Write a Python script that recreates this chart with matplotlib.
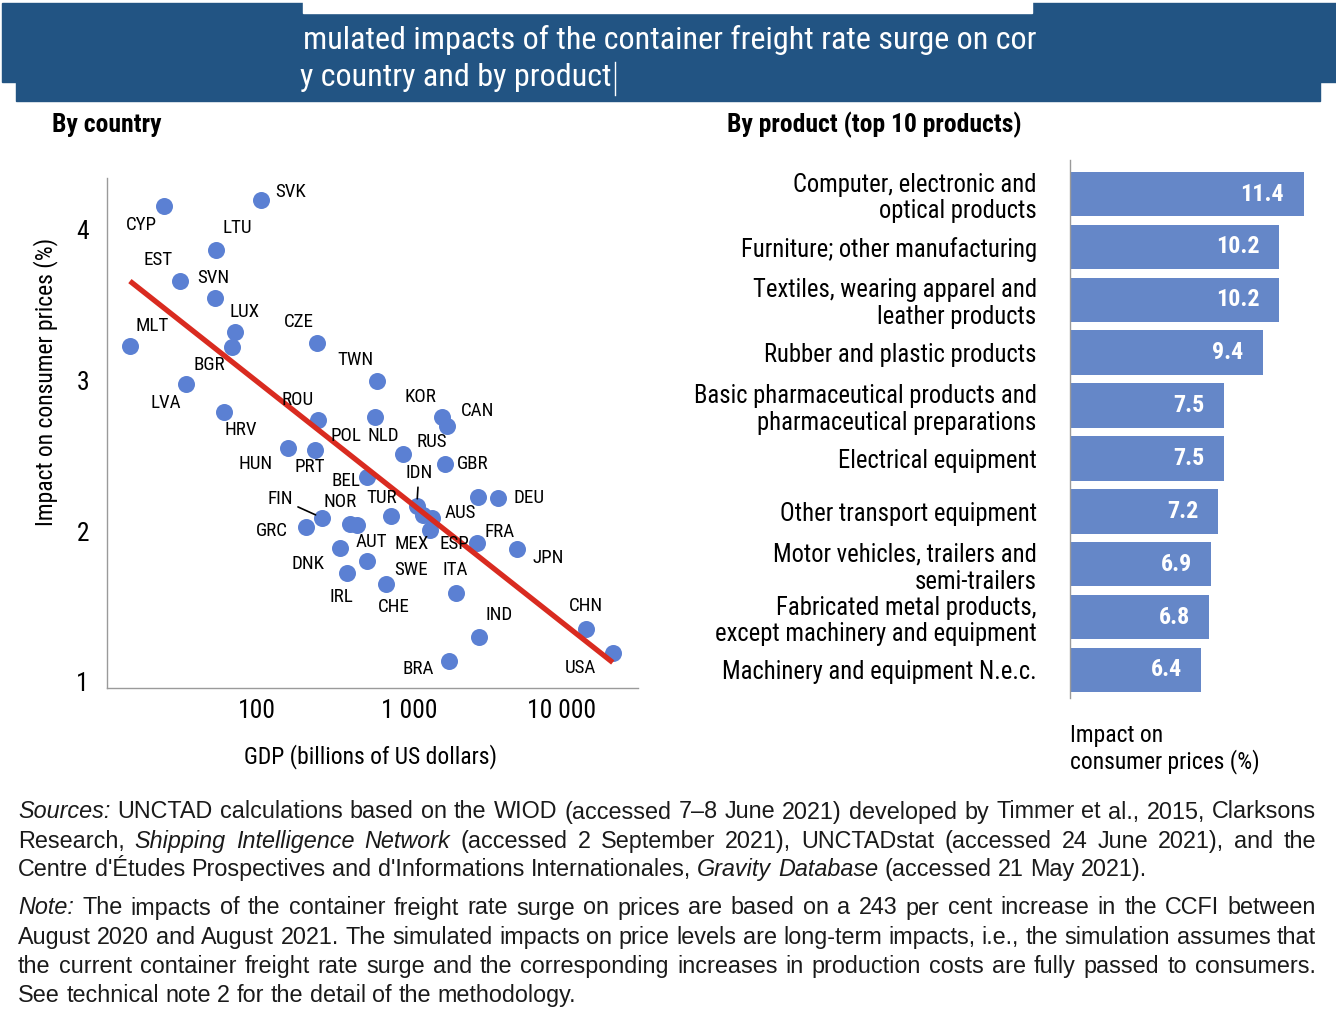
import matplotlib.pyplot as plt
import matplotlib.patches as patches
import matplotlib.font_manager as fm
from matplotlib.font_manager import FontProperties
import numpy as np

# ---- data: by country (GDP in billions USD, impact in %) ----
countries = ["SVK", "CYP", "LTU", "EST", "SVN", "LUX", "BGR", "MLT", "CZE", "TWN",
             "LVA", "HRV", "ROU", "POL", "KOR", "CAN", "NLD", "HUN", "PRT", "GBR",
             "BEL", "RUS", "DEU", "IDN", "MEX", "AUS", "ESP", "FRA", "JPN", "FIN",
             "GRC", "NOR", "AUT", "TUR", "DNK", "SWE", "IRL", "CHE", "ITA", "IND",
             "BRA", "CHN", "USA"]
gdp = [106, 24.5, 53.8, 31.3, 53.1, 71.8, 68.6, 14.7, 247, 612,
       34.2, 60.8, 251, 594, 1633, 1762, 906, 160, 240, 1710,
       526, 2812, 3802, 1120, 1227, 1407, 1362, 2773, 5070, 267,
       209, 407, 453, 757, 350, 526, 389, 701, 2017, 2857,
       1815, 14350, 21580]
impact = [4.20, 4.16, 3.87, 3.66, 3.55, 3.32, 3.22, 3.23, 3.25, 3.00,
          2.98, 2.79, 2.74, 2.76, 2.76, 2.70, 2.51, 2.55, 2.54, 2.45,
          2.36, 2.23, 2.22, 2.17, 2.11, 2.09, 2.01, 1.92, 1.88, 2.09,
          2.03, 2.05, 2.04, 2.10, 1.89, 1.80, 1.72, 1.65, 1.59, 1.30,
          1.14, 1.35, 1.19]

# ---- data: by product ----
products = ["Computer, electronic and\noptical products",
            "Furniture; other manufacturing",
            "Textiles, wearing apparel and\nleather products",
            "Rubber and plastic products",
            "Basic pharmaceutical products and\npharmaceutical preparations",
            "Electrical equipment",
            "Other transport equipment",
            "Motor vehicles, trailers and\nsemi-trailers",
            "Fabricated metal products,\nexcept machinery and equipment",
            "Machinery and equipment N.e.c."]
product_impact = [11.4, 10.2, 10.2, 9.4, 7.5, 7.5, 7.2, 6.9, 6.8, 6.4]

# label offsets in pixels (dx right, dy down) from each point
label_offsets = {
    "SVK": (30, -8), "CYP": (-22, 19), "LTU": (21, -22), "EST": (-22, -21),
    "SVN": (-2, -20), "LUX": (10, -20), "BGR": (-23, 18), "MLT": (22, -20),
    "CZE": (-18, -21), "TWN": (-21, -21), "LVA": (-20, 19), "HRV": (17, 18),
    "ROU": (-20, -20), "POL": (-29, 19), "KOR": (-21, -20), "CAN": (31, -15),
    "NLD": (-19, -18), "HUN": (-32, 16), "PRT": (-5, 17), "GBR": (28, 0),
    "BEL": (-21, 4), "RUS": (-46, -55), "DEU": (31, 0), "IDN": (2, -33),
    "MEX": (-11, 29), "AUS": (28, -5), "ESP": (25, 14), "FRA": (23, -11),
    "JPN": (31, 9), "FIN": (-42, -19), "GRC": (-34, 4), "NOR": (-10, -22),
    "AUT": (14, 17), "TUR": (-9, -18), "DNK": (-32, 16), "SWE": (44, 9),
    "IRL": (-5, 24), "CHE": (8, 23), "ITA": (-1, -23), "IND": (20, -22),
    "BRA": (-31, 8), "CHN": (0, -23), "USA": (-32, 15),
}
pointer_labels = ["FIN", "IDN"]

# ---- fonts: Roboto Condensed if present ----
cond = {}
for f in fm.fontManager.ttflist:
    if f.name == "Roboto Condensed" and f.style == "normal":
        if f.weight in (400, "normal", "regular"):
            cond["reg"] = f.fname
        elif f.weight in (700, "bold"):
            cond["bold"] = f.fname

def font(size, bold=False):
    path = cond.get("bold" if bold else "reg", cond.get("reg"))
    if path:
        return FontProperties(fname=path, size=size)
    return FontProperties(family=["Liberation Sans", "DejaVu Sans"],
                          weight="bold" if bold else "normal", size=size)

plt.rcParams['font.family'] = ["Liberation Sans", "DejaVu Sans"]

W, H = 1336, 1022
fig = plt.figure(figsize=(W / 100, H / 100), dpi=100)
fig.patch.set_facecolor("white")
renderer = fig.canvas.get_renderer()

def fit_size(sample, target_px, bold=False):
    # size that makes the sample text as wide as in the reference
    t = fig.text(0, 0, sample, fontproperties=font(10, bold))
    w = t.get_window_extent(renderer).width
    t.remove()
    return 10 * target_px / w

def fx(px):
    return px / W

def fy(py):
    return 1 - py / H

s_title = fit_size("mulated impacts of the container freight rate surge on cor", 727)
s_head = fit_size("By product (top 10 products)", 295, True)
s_cat = fit_size("Furniture; other manufacturing", 294)
s_val = fit_size("11.4", 44, True)
s_cty = fit_size("SVK", 31)
s_tick = fit_size("10 000", 68)
s_lab = fit_size("GDP (billions of US dollars)", 253)

# ---- header band ----
band = "#225483"
fig.patches.append(patches.Rectangle((fx(2), fy(82)), fx(1334), 79 / H, color=band,
                                     transform=fig.transFigure, zorder=0))
fig.patches.append(patches.Rectangle((fx(16), fy(101)), fx(1304), 20 / H, color=band,
                                     transform=fig.transFigure, zorder=0))
fig.patches.append(patches.Rectangle((fx(303), fy(13)), fx(729), 14 / H, color="white",
                                     transform=fig.transFigure, zorder=1))
fig.text(fx(303), fy(40), "mulated impacts of the container freight rate surge on cor",
         color="white", fontproperties=font(s_title), ha="left", va="center")
t2 = fig.text(fx(300), fy(77), "y country and by product", color="white",
              fontproperties=font(s_title), ha="left", va="center")
cur_x = t2.get_window_extent(renderer).x1 + 3
fig.lines.append(plt.Line2D([cur_x / W, cur_x / W], [fy(62), fy(95)], color="white",
                            lw=1, transform=fig.transFigure))

fig.text(fx(52), fy(125), "By country", fontproperties=font(s_head, True), va="center")
fig.text(fx(727), fy(125), "By product (top 10 products)", fontproperties=font(s_head, True),
         va="center")

# ---- scatter: by country ----
ax = fig.add_axes([fx(107), fy(688), 531 / W, 510 / H])
ax.set_xscale("log")
ax.scatter(gdp, impact, s=150, color="#5b80d3", zorder=3, linewidths=0)

lg = np.log10(gdp)
coef = np.polyfit(lg, impact, 1)
xs = np.array([min(gdp), max(gdp)])
ax.plot(xs, coef[0] * np.log10(xs) + coef[1], color="#d92b20", lw=3.8,
        solid_capstyle="butt", zorder=4)

for c, x, y in zip(countries, gdp, impact):
    dx, dy = label_offsets[c]
    if c in pointer_labels:
        ax.annotate(c, (x, y), xytext=(dx, -dy), textcoords="offset pixels",
                    ha="center", va="center", fontproperties=font(s_cty), zorder=5,
                    arrowprops=dict(arrowstyle="-", color="black", lw=1.2,
                                    shrinkA=2, shrinkB=5))
    else:
        ax.annotate(c, (x, y), xytext=(dx, -dy), textcoords="offset pixels",
                    ha="center", va="center", fontproperties=font(s_cty), zorder=5)

ax.set_xlim(10.4, 31600)
ax.set_ylim(0.96, 4.345)
ax.set_xticks([100, 1000, 10000])
ax.set_xticklabels(["100", "1 000", "10 000"])
ax.minorticks_off()
ax.set_yticks([1, 2, 3, 4])
for t in ax.get_xticklabels() + ax.get_yticklabels():
    t.set_fontproperties(font(s_tick))
ax.tick_params(axis="both", length=0)
ax.tick_params(axis="y", pad=13)
ax.tick_params(axis="x", pad=8)
for s in ["top", "right"]:
    ax.spines[s].set_visible(False)
for s in ["left", "bottom"]:
    ax.spines[s].set_color("#9a9a9a")
    ax.spines[s].set_linewidth(1)
ax.set_ylabel("Impact on consumer prices (%)", fontproperties=font(s_lab))
ax.yaxis.set_label_coords(-0.092, 0.6)
ax.set_xlabel("GDP (billions of US dollars)", fontproperties=font(s_lab))
ax.xaxis.set_label_coords(0.497, -0.11)

# ---- bars: by product ----
bx = fig.add_axes([fx(1070), fy(698), 260 / W, 538 / H])
pos = np.arange(len(products))
bx.barh(pos, product_impact, height=0.84, color="#6587c8", zorder=2)
for p, v in zip(pos, product_impact):
    bx.text(v - 0.95, p, f"{v:.1f}", color="white", fontproperties=font(s_val, True),
            ha="right", va="center")
bx.set_ylim(9.53, -0.643)
bx.set_xlim(0, 260 / 20.5)
bx.set_yticks(pos)
bx.set_yticklabels(products, fontproperties=font(s_cat), ha="right", linespacing=1.15)
bx.tick_params(axis="y", length=0, pad=24)
bx.set_xticks([])
for s in ["top", "right", "bottom"]:
    bx.spines[s].set_visible(False)
bx.spines["left"].set_color("#9a9a9a")
bx.spines["left"].set_linewidth(1)
fig.text(fx(1070), fy(749), "Impact on\nconsumer prices (%)", fontproperties=font(s_lab),
         ha="left", va="center", linespacing=1.12)

# ---- notes, justified ----
NOTE_SIZE = 16.8

def word_width(word, italic):
    t = fig.text(0, 0, word, fontsize=NOTE_SIZE, family="Liberation Sans",
                 style="italic" if italic else "normal")
    w = t.get_window_extent(renderer).width
    t.remove()
    return w

def note_line(segments, py, justify):
    words = []
    for txt, it in segments:
        for w in txt.split(" "):
            if w:
                words.append((w, it))
    widths = [word_width(w, it) for w, it in words]
    if justify:
        gap = (1316 - 18 - sum(widths)) / (len(words) - 1)
    else:
        gap = word_width("a a", False) - 2 * word_width("a", False)
    x = 18
    for (w, it), wd in zip(words, widths):
        fig.text(fx(x), fy(py), w, fontsize=NOTE_SIZE, family="Liberation Sans",
                 style="italic" if it else "normal", va="center", ha="left",
                 color="#1a1a1a")
        x += wd + gap

note_line([("Sources:", True), ("UNCTAD calculations based on the WIOD (accessed 7–8 June 2021) "
           "developed by Timmer et al., 2015, Clarksons", False)], 812, True)
note_line([("Research,", False), ("Shipping Intelligence Network", True),
           ("(accessed 2 September 2021), UNCTADstat (accessed 24 June 2021), and the", False)],
          841, True)
note_line([("Centre d'Études Prospectives and d'Informations Internationales,", False),
           ("Gravity Database", True), ("(accessed 21 May 2021).", False)], 869, False)
note_line([("Note:", True), ("The impacts of the container freight rate surge on prices are based "
           "on a 243 per cent increase in the CCFI between", False)], 908, True)
note_line([("August 2020 and August 2021. The simulated impacts on price levels are long-term "
            "impacts, i.e., the simulation assumes that", False)], 937, True)
note_line([("the current container freight rate surge and the corresponding increases in "
            "production costs are fully passed to consumers.", False)], 966, True)
note_line([("See technical note 2 for the detail of the methodology.", False)], 995, False)

fig.savefig("out.png", dpi=100)
